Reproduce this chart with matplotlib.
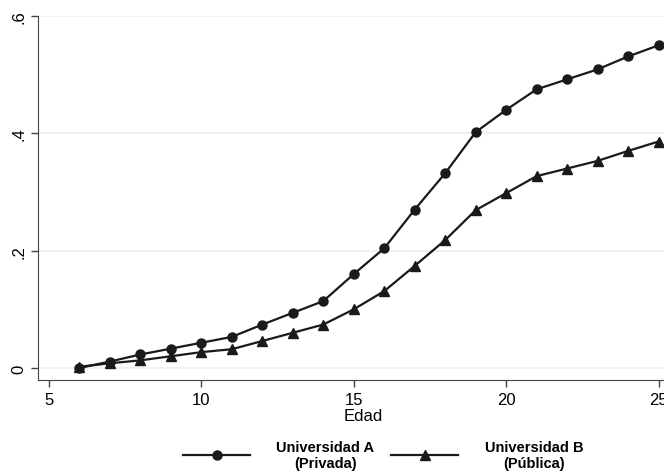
import matplotlib
matplotlib.use("Agg")
import matplotlib.pyplot as plt

plt.rcParams['font.family'] = ['Liberation Sans Narrow', 'Liberation Sans', 'DejaVu Sans']

# ages and shares
edad = [6, 7, 8, 9, 10, 11, 12, 13, 14, 15, 16, 17, 18, 19, 20, 21, 22, 23, 24, 25]
univ_a = [0.0, 0.011, 0.023, 0.033, 0.043, 0.053, 0.074, 0.094, 0.114, 0.160,
          0.204, 0.270, 0.332, 0.402, 0.440, 0.475, 0.492, 0.509, 0.531, 0.550]
univ_b = [0.002, 0.008, 0.013, 0.020, 0.027, 0.032, 0.046, 0.060, 0.074, 0.100,
          0.131, 0.174, 0.218, 0.269, 0.298, 0.327, 0.340, 0.353, 0.370, 0.386]
label_a = "Universidad A\n(Privada)"
label_b = "Universidad B\n(Pública)"
xticks = [5, 10, 15, 20, 25]
yticks = [0, 0.2, 0.4, 0.6]
yticklabels = ["0", ".2", ".4", ".6"]

fig = plt.figure(figsize=(6.64, 4.77), dpi=100)
ax = fig.add_axes([38 / 664, 96 / 477, 651 / 664, 364 / 477])

ax.plot(edad, univ_a, color='#1a1a1a', lw=1.6, marker='o', ms=6.5, label=label_a)
ax.plot(edad, univ_b, color='#1a1a1a', lw=1.6, marker='^', ms=7, label=label_b)

ax.set_xlim(4.64, 26)
ax.set_ylim(-0.0205, 0.6)
ax.set_xticks(xticks)
ax.set_yticks(yticks)
ax.set_yticklabels(yticklabels, rotation=90, va='center')
ax.tick_params(axis='both', labelsize=12, length=5, color='#444444', width=1)
ax.grid(axis='y', color='#e8f0f2', lw=1.2)
ax.set_axisbelow(True)
for s in ['top', 'right']:
    ax.spines[s].set_visible(False)
for s in ['left', 'bottom']:
    ax.spines[s].set_color('#444444')
ax.set_xlabel("Edad", fontsize=12, labelpad=1)

leg = fig.legend(loc='center', bbox_to_anchor=(383 / 664, 21 / 477), ncol=2,
                 frameon=False, handlelength=4.6, handletextpad=1.8,
                 columnspacing=1.15, prop={'size': 10.5, 'weight': 'bold'})
for t in leg.get_texts():
    t.set_multialignment('center')

fig.savefig("out.png", dpi=100)
